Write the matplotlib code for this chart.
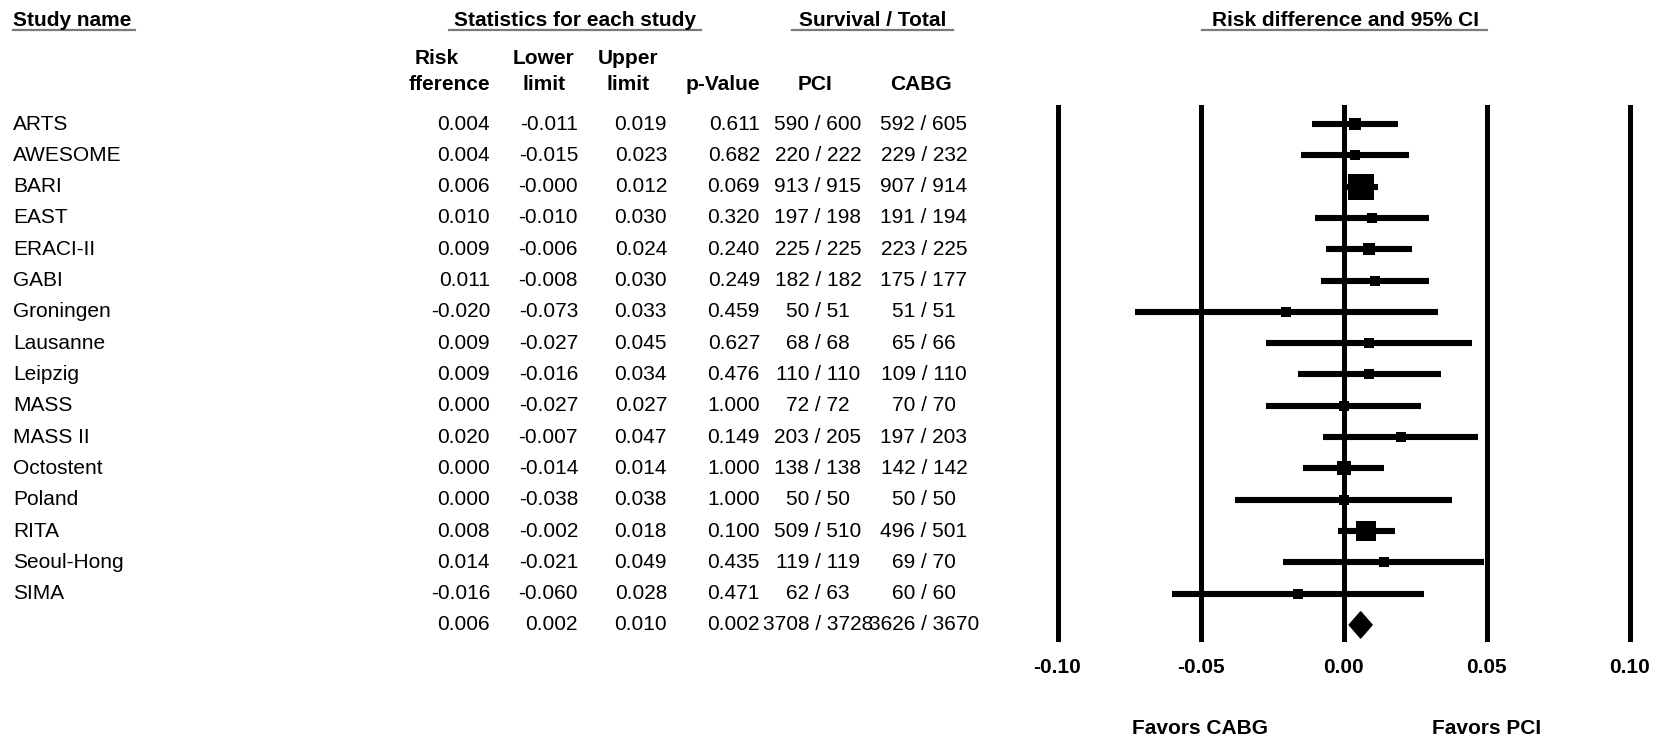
import numpy as np
import matplotlib
matplotlib.use('Agg')
import matplotlib.pyplot as plt
from matplotlib.patches import Polygon
from matplotlib.lines import Line2D
from matplotlib import transforms

plt.rcParams['font.family'] = ['Liberation Sans', 'DejaVu Sans']
plt.rcParams['font.size'] = 15

# Study-level results (risk difference, PCI vs CABG survival)
studies = ['ARTS', 'AWESOME', 'BARI', 'EAST', 'ERACI-II', 'GABI', 'Groningen',
           'Lausanne', 'Leipzig', 'MASS', 'MASS II', 'Octostent', 'Poland',
           'RITA', 'Seoul-Hong', 'SIMA']
risk_diff = [0.004, 0.004, 0.006, 0.010, 0.009, 0.011, -0.020, 0.009, 0.009,
             0.000, 0.020, 0.000, 0.000, 0.008, 0.014, -0.016]
lower = [-0.011, -0.015, -0.000, -0.010, -0.006, -0.008, -0.073, -0.027, -0.016,
         -0.027, -0.007, -0.014, -0.038, -0.002, -0.021, -0.060]
upper = [0.019, 0.023, 0.012, 0.030, 0.024, 0.030, 0.033, 0.045, 0.034,
         0.027, 0.047, 0.014, 0.038, 0.018, 0.049, 0.028]
p_value = [0.611, 0.682, 0.069, 0.320, 0.240, 0.249, 0.459, 0.627, 0.476,
           1.000, 0.149, 1.000, 1.000, 0.100, 0.435, 0.471]
pci = ['590 / 600', '220 / 222', '913 / 915', '197 / 198', '225 / 225',
       '182 / 182', '50 / 51', '68 / 68', '110 / 110', '72 / 72', '203 / 205',
       '138 / 138', '50 / 50', '509 / 510', '119 / 119', '62 / 63']
cabg = ['592 / 605', '229 / 232', '907 / 914', '191 / 194', '223 / 225',
        '175 / 177', '51 / 51', '65 / 66', '109 / 110', '70 / 70', '197 / 203',
        '142 / 142', '50 / 50', '496 / 501', '69 / 70', '60 / 60']
# relative weight (%) of each study, used for box area
weight = [6.1, 4.0, 24.6, 4.0, 6.1, 4.0, 4.0, 3.6, 3.6, 4.0, 4.0, 7.1, 3.3,
          14.5, 3.6, 4.0]

# pooled estimate
pooled_rd, pooled_lo, pooled_hi, pooled_p = 0.006, 0.002, 0.010, 0.002
pooled_pci, pooled_cabg = '3708 / 3728', '3626 / 3670'

ticks = [-0.10, -0.05, 0.00, 0.05, 0.10]

W, H = 1661, 740
fig = plt.figure(figsize=(W / 100, H / 100), dpi=100)
ax = fig.add_axes([1057.5 / W, 1 - 639 / H, 572 / W, 532 / H])

n = len(studies)
rows = np.arange(n)
ax.set_xlim(-0.10, 0.10)
ax.set_ylim(16.45, -0.545)

for t in ticks:
    ax.axvline(t, color='black', lw=3.6, clip_on=False, zorder=1)

ax.hlines(rows, lower, upper, color='black', lw=4.4, zorder=2)
for i in range(n):
    side_px = 26 * np.sqrt(weight[i] / 24.6)
    ax.plot(risk_diff[i], rows[i], marker='s', color='black',
            markersize=side_px * 72 / 100, markeredgewidth=0, zorder=3)

# pooled diamond
yp = n
ax.add_patch(Polygon([(pooled_lo, yp), (pooled_rd, yp - 0.42),
                      (pooled_hi, yp), (pooled_rd, yp + 0.42)],
                     closed=True, color='black', zorder=3))

ax.set_xticks(ticks)
ax.set_xticklabels(['%.2f' % t for t in ticks], fontweight='bold')
ax.tick_params(axis='x', length=0, pad=13.5)
ax.set_yticks([])
for s in ax.spines.values():
    s.set_visible(False)

# favours labels under the axis
tr_fav = transforms.blended_transform_factory(ax.transData, fig.transFigure)
ax.text(-0.05, 1 - 729 / H, 'Favors CABG', transform=tr_fav, ha='center',
        va='center', fontweight='bold')
ax.text(0.05, 1 - 729 / H, 'Favors PCI', transform=tr_fav, ha='center',
        va='center', fontweight='bold')

# table columns, x in figure pixels, y in row units
tr = transforms.blended_transform_factory(fig.transFigure, ax.transData)


def col(px, y, s, ha='right', **kw):
    fig.text(px / W, y, s, transform=tr, ha=ha, va='center', **kw)


for i in range(n):
    col(13, i, studies[i], ha='left')
    col(490, i, '%.3f' % risk_diff[i])
    col(578, i, '%.3f' % lower[i])
    col(667, i, '%.3f' % upper[i])
    col(760, i, '%.3f' % p_value[i])
    col(818, i, pci[i], ha='center')
    col(924, i, cabg[i], ha='center')

col(490, n, '%.3f' % pooled_rd)
col(578, n, '%.3f' % pooled_lo)
col(667, n, '%.3f' % pooled_hi)
col(760, n, '%.3f' % pooled_p)
col(818, n, pooled_pci, ha='center')
col(924, n, pooled_cabg, ha='center')

# headers
def head(px, py, s, ha='center'):
    fig.text(px / W, 1 - py / H, s, ha=ha, va='center', fontweight='bold')


def underline(x0, x1, py):
    fig.add_artist(Line2D([x0 / W, x1 / W], [1 - py / H, 1 - py / H],
                          color='#7a7a7a', lw=1.6))


head(13, 20, 'Study name', ha='left')
underline(13, 135, 30)
head(575, 20, 'Statistics for each study')
underline(449, 701, 30)
head(873, 20, 'Survival / Total')
underline(792, 953, 30)
head(1346, 20, 'Risk difference and 95% CI')
underline(1202, 1487, 30)

head(437, 59, 'Risk')
head(490, 84, 'fference', ha='right')
head(544, 59, 'Lower')
head(544, 84, 'limit')
head(628, 59, 'Upper')
head(628, 84, 'limit')
head(760, 84, 'p-Value', ha='right')
head(815, 84, 'PCI')
head(921, 84, 'CABG')

fig.savefig('out.png', dpi=100)
